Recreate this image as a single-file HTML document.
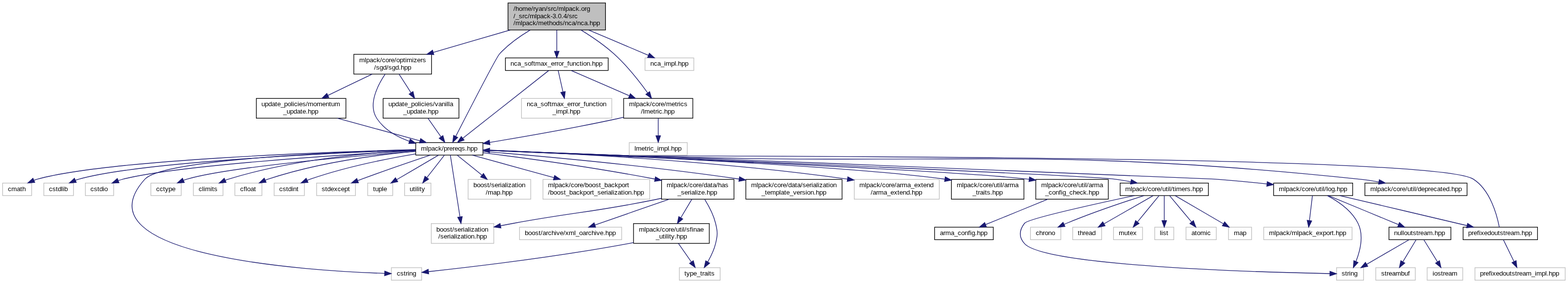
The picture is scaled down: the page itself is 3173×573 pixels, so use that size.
<!DOCTYPE html>
<html><head><meta charset="utf-8"><title>nca.hpp include dependency graph</title>
<style>
html,body{margin:0;padding:0;background:#fff;}
body{width:3173px;height:573px;}
svg{display:block;will-change:transform;}
svg text{font-family:"Liberation Sans",sans-serif;font-size:13.3333px;fill:#000;}
.n{stroke-width:1.3333}
.e{fill:none;stroke:#191970;stroke-width:1.3333}
.a{fill:#191970;stroke:#191970;stroke-width:1.3333}
</style></head><body>
<svg width="3173" height="573" viewBox="0 0 3173 573">
<rect width="3173" height="573" fill="#fff"/>
<rect class="n" x="1028" y="6" width="197.33" height="54.67" fill="#bfbfbf" stroke="#000"/>
<text x="1039 1043 1050 1057 1068 1075 1079 1083 1090 1097 1104 1108 1115 1119 1126 1130 1141 1144 1151 1158 1165 1172 1176 1183 1187" y="22">/home/ryan/src/mlpack.org</text>
<text x="1039 1043 1050 1057 1061 1068 1072 1083 1086 1093 1100 1107 1114 1118 1125 1129 1136 1140 1147 1151 1158 1162" y="37">/_src/mlpack-3.0.4/src</text>
<text x="1039 1043 1054 1057 1064 1071 1078 1085 1089 1100 1107 1111 1118 1125 1132 1139 1143 1150 1157 1164 1168 1175 1182 1189 1193 1200 1207" y="51">/mlpack/methods/nca/nca.hpp</text>
<rect class="n" x="841.33" y="288.67" width="136" height="25.33" fill="#fff" stroke="#000"/>
<text x="852 863 866 873 880 887 894 898 905 909 916 920 927 934 941 945 952 959" y="305">mlpack/prereqs.hpp</text>
<path class="e" d="M1072.73,60.88C1051.55,73.57 1028.17,90.1 1010.67,109.33 1004.44,116.18 948.1,225.58 922.22,276.11"/><polygon class="a" points="926.3,278.38 916.07,288.13 917.99,274.13"/>
<rect class="n" x="1262" y="199.33" width="140" height="40" fill="#fff" stroke="#000"/>
<text x="1273 1284 1287 1294 1301 1308 1315 1319 1326 1333 1337 1344 1348 1359 1366 1370 1374 1377 1384" y="215">mlpack/core/metrics</text>
<text x="1297 1301 1304 1315 1322 1326 1330 1333 1340 1344 1351 1358" y="230">/lmetric.hpp</text>
<path class="e" d="M1175.91,60.92C1197.5,74.16 1222.47,91.1 1242.67,109.33 1268.79,132.92 1293.62,164.5 1310.43,187.77"/><polygon class="a" points="1314.56,185.52 1318.46,199.09 1306.95,190.92"/>
<rect class="n" x="716" y="110" width="157.33" height="40" fill="#fff" stroke="#000"/>
<text x="727 738 741 748 755 762 769 773 780 787 791 798 802 809 816 820 823 834 837 844 851 855" y="126">mlpack/core/optimizers</text>
<text x="757 761 768 775 782 786 793 800 807 811 818 825" y="141">/sgd/sgd.hpp</text>
<path class="e" d="M1032.42,60.78C983.35,75.06 923.93,92.36 876.77,106.09"/><polygon class="a" points="877.92,110.62 863.81,109.87 875.31,101.66"/>
<rect class="n" x="1022.67" y="117.33" width="208" height="25.33" fill="#fff" stroke="#000"/>
<text x="1033 1040 1047 1054 1061 1068 1075 1079 1083 1094 1101 1108 1115 1122 1126 1130 1137 1141 1148 1152 1159 1166 1173 1177 1180 1187 1194 1198 1205 1212" y="133">nca_softmax_error_function.hpp</text>
<path class="e" d="M1126.67,60.78C1126.67,74.24 1126.67,90.38 1126.67,103.69"/><polygon class="a" points="1131.33,103.89 1126.67,117.22 1122,103.89"/>
<rect class="n" x="1305.33" y="117.33" width="98.67" height="25.33" fill="#fff" stroke="#bfbfbf"/>
<text x="1316 1323 1330 1337 1344 1347 1358 1365 1368 1372 1379 1386" y="133">nca_impl.hpp</text>
<path class="e" d="M1191.39,60.78C1229.98,77.14 1277.89,97.45 1311.81,111.83"/><polygon class="a" points="1314.07,107.72 1324.52,117.22 1310.43,116.31"/>
<rect class="n" x="5.33" y="370.67" width="58.67" height="25.33" fill="#fff" stroke="#bfbfbf"/>
<text x="16 23 34 41 45" y="387">cmath</text>
<path class="e" d="M840.99,302.95C668.59,307.58 219.54,323.16 76,362.67 73.71,363.3 71.4,364.06 69.11,364.91"/><polygon class="a" points="70.42,369.43 56.34,370.52 66.67,360.88"/>
<rect class="n" x="88.67" y="370.67" width="60" height="25.33" fill="#fff" stroke="#bfbfbf"/>
<text x="99 106 113 117 124 127 130" y="387">cstdlib</text>
<path class="e" d="M840.92,303.61C681.09,309.46 287.12,327.12 160,362.67 157.72,363.31 155.41,364.07 153.11,364.93"/><polygon class="a" points="154.43,369.45 140.35,370.55 150.67,360.91"/>
<rect class="n" x="172.67" y="370.67" width="57.33" height="25.33" fill="#fff" stroke="#bfbfbf"/>
<text x="183 190 197 201 208 211" y="387">cstdio</text>
<path class="e" d="M841.15,304.96C695.86,313.12 360.01,334.45 249.33,362.67 246.03,363.51 242.65,364.55 239.31,365.72"/><polygon class="a" points="240.84,370.13 226.72,370.65 237.43,361.44"/>
<rect class="n" x="792" y="542" width="61.33" height="25.33" fill="#fff" stroke="#bfbfbf"/>
<text x="803 810 817 821 825 828 835" y="558">cstring</text>
<path class="e" d="M841.27,303.07C688.65,307.65 329.58,322.63 293.33,362.67 151.43,519.4 627.09,548.34 778.13,553.55"/><polygon class="a" points="778.52,548.9 791.7,553.99 778.23,558.23"/>
<rect class="n" x="305.33" y="370.67" width="61.33" height="25.33" fill="#fff" stroke="#bfbfbf"/>
<text x="316 323 330 334 341 348" y="387">cctype</text>
<path class="e" d="M841,306.37C717.92,315.91 463.82,337.9 378.67,362.67 376.38,363.33 374.07,364.11 371.77,364.96"/><polygon class="a" points="373,369.51 358.91,370.5 369.31,360.94"/>
<rect class="n" x="391.33" y="370.67" width="60" height="25.33" fill="#fff" stroke="#bfbfbf"/>
<text x="402 409 412 415 426 429 433" y="387">climits</text>
<path class="e" d="M841.26,303.79C752.37,308.54 592.78,322.41 462.67,362.67 460.45,363.35 458.21,364.14 455.98,365.01"/><polygon class="a" points="457.6,369.4 443.52,370.58 453.79,360.88"/>
<rect class="n" x="475.33" y="370.67" width="54.67" height="25.33" fill="#fff" stroke="#bfbfbf"/>
<text x="486 493 497 500 507 514" y="387">cfloat</text>
<path class="e" d="M841.24,306.36C766.45,313.32 643.56,329.09 542.67,362.67 540.77,363.3 538.85,364.01 536.93,364.78"/><polygon class="a" points="538.62,369.14 524.56,370.47 534.72,360.66"/>
<rect class="n" x="554.67" y="370.67" width="61.33" height="25.33" fill="#fff" stroke="#bfbfbf"/>
<text x="565 572 579 583 590 593 600" y="387">cstdint</text>
<path class="e" d="M841.03,311.57C783.28,321.32 698.87,338.17 628,362.67 625.86,363.41 623.69,364.23 621.52,365.1"/><polygon class="a" points="623.36,369.38 609.28,370.51 619.59,360.85"/>
<rect class="n" x="640.67" y="370.67" width="78.67" height="25.33" fill="#fff" stroke="#bfbfbf"/>
<text x="651 658 662 669 676 683 690 697 704" y="387">stdexcept</text>
<path class="e" d="M870.76,314.11C834.71,326.19 779.49,345.03 732,362.67 729.47,363.61 726.88,364.58 724.27,365.58"/><polygon class="a" points="725.38,370.16 711.26,370.64 721.99,361.46"/>
<rect class="n" x="744" y="370.67" width="50.67" height="25.33" fill="#fff" stroke="#bfbfbf"/>
<text x="755 759 766 773 776" y="387">tuple</text>
<path class="e" d="M887.46,314.15C864.75,327.44 828.95,348.41 802.71,363.78"/><polygon class="a" points="804.92,367.9 791.05,370.61 800.2,359.85"/>
<rect class="n" x="818.67" y="370.67" width="53.33" height="25.33" fill="#fff" stroke="#bfbfbf"/>
<text x="829 836 840 843 846 849 853" y="387">utility</text>
<path class="e" d="M899.33,314.15C889.9,326.23 875.53,344.65 863.98,359.44"/><polygon class="a" points="867.36,362.7 855.47,370.34 860,356.96"/>
<rect class="n" x="872.67" y="452.67" width="126.67" height="40" fill="#fff" stroke="#bfbfbf"/>
<text x="883 890 897 904 911 915 919 926 933 937 940 947 950 953 960 967 971 974 981" y="469">boost/serialization</text>
<text x="887 891 898 905 909 912 919 922 925 932 939 943 946 953 960 964 971 978" y="483">/serialization.hpp</text>
<path class="e" d="M911.34,314.21C915.42,340.43 924.81,400.77 930.75,438.96"/><polygon class="a" points="935.41,438.51 932.85,452.4 926.18,439.94"/>
<rect class="n" x="947.33" y="363.33" width="126.67" height="40" fill="#fff" stroke="#bfbfbf"/>
<text x="958 965 972 979 986 990 994 1001 1008 1012 1015 1022 1025 1028 1035 1042 1046 1049 1056" y="379">boost/serialization</text>
<text x="983 987 998 1005 1012 1016 1023 1030" y="394">/map.hpp</text>
<path class="e" d="M925.17,314.15C938.5,324.94 958.07,340.77 975.13,354.57"/><polygon class="a" points="978.45,351.26 985.88,363.27 972.58,358.51"/>
<rect class="n" x="1098.67" y="363.33" width="216" height="40" fill="#fff" stroke="#bfbfbf"/>
<text x="1109 1120 1123 1130 1137 1144 1151 1155 1162 1169 1173 1180 1184 1191 1198 1205 1212 1216 1223 1230 1237 1244 1251 1258 1265 1269" y="379">mlpack/core/boost_backport</text>
<text x="1109 1113 1120 1127 1134 1141 1145 1152 1159 1166 1173 1180 1187 1194 1198 1202 1209 1216 1223 1227 1230 1237 1240 1243 1250 1257 1261 1264 1271 1278 1282 1289 1296" y="394">/boost_backport_serialization.hpp</text>
<path class="e" d="M955.79,314.15C999.85,326.3 1067.12,344.85 1120.92,359.69"/><polygon class="a" points="1122.32,355.23 1133.93,363.27 1119.84,364.23"/>
<rect class="n" x="1338.67" y="363.33" width="146.67" height="40" fill="#fff" stroke="#000"/>
<text x="1349 1360 1363 1370 1377 1384 1391 1395 1402 1409 1413 1420 1424 1431 1438 1442 1449 1453 1460 1467" y="379">mlpack/core/data/has</text>
<text x="1371 1378 1385 1392 1396 1399 1406 1409 1412 1419 1426 1430 1437 1444" y="394">_serialize.hpp</text>
<path class="e" d="M977.61,309.41C1057.77,319.34 1194.96,337.67 1325.16,362.51"/><polygon class="a" points="1326.34,357.98 1338.55,365.09 1324.57,367.15"/>
<rect class="n" x="1509.33" y="363.33" width="194.67" height="40" fill="#fff" stroke="#000"/>
<text x="1520 1531 1534 1541 1548 1555 1562 1566 1573 1580 1584 1591 1595 1602 1609 1613 1620 1624 1631 1638 1642 1645 1652 1655 1658 1665 1672 1676 1679 1686" y="379">mlpack/core/data/serialization</text>
<text x="1541 1548 1552 1559 1570 1577 1580 1587 1591 1598 1605 1612 1619 1623 1630 1633 1640 1647 1651 1658 1665" y="394">_template_version.hpp</text>
<path class="e" d="M977.47,306.59C1084.79,315.29 1300.02,334.35 1495.53,362.5"/><polygon class="a" points="1496.45,357.92 1508.98,364.45 1495.11,367.15"/>
<rect class="n" x="1728.67" y="363.33" width="172" height="40" fill="#fff" stroke="#bfbfbf"/>
<text x="1739 1750 1753 1760 1767 1774 1781 1785 1792 1799 1803 1810 1814 1821 1825 1836 1843 1850 1857 1864 1868 1875 1882" y="379">mlpack/core/arma_extend</text>
<text x="1762 1766 1773 1777 1788 1795 1802 1809 1816 1820 1827 1834 1841 1845 1852 1859" y="394">/arma_extend.hpp</text>
<path class="e" d="M977.65,303.52C1114.89,308.56 1433.98,323.55 1714.81,362.66"/><polygon class="a" points="1715.6,358.06 1728.15,364.54 1714.3,367.3"/>
<rect class="n" x="1925.33" y="363.33" width="146.67" height="40" fill="#fff" stroke="#000"/>
<text x="1936 1947 1950 1957 1964 1971 1978 1982 1989 1996 2000 2007 2011 2018 2022 2025 2028 2032 2039 2043 2054" y="379">mlpack/core/util/arma</text>
<text x="1968 1975 1979 1983 1990 1993 1997 2004 2008 2015 2022" y="394">_traits.hpp</text>
<path class="e" d="M977.37,303.92C1168.18,311.42 1707.06,334.33 1911.72,362.72"/><polygon class="a" points="1912.76,358.16 1925.29,364.69 1911.42,367.4"/>
<rect class="n" x="2096" y="363.33" width="146.67" height="40" fill="#fff" stroke="#000"/>
<text x="2107 2118 2121 2128 2135 2142 2149 2153 2160 2167 2171 2178 2182 2189 2193 2196 2199 2203 2210 2214 2225" y="379">mlpack/core/util/arma</text>
<text x="2115 2122 2129 2136 2143 2147 2150 2157 2164 2171 2178 2185 2192 2199 2203 2210 2217" y="394">_config_check.hpp</text>
<path class="e" d="M977.6,304.16C1204.33,313.64 1926.13,344.64 2082.28,362.87"/><polygon class="a" points="2083.34,358.3 2095.96,364.65 2082.13,367.56"/>
<rect class="n" x="2266.67" y="370.67" width="178.67" height="25.33" fill="#fff" stroke="#000"/>
<text x="2277 2288 2291 2298 2305 2312 2319 2323 2330 2337 2341 2348 2352 2359 2363 2366 2369 2373 2377 2380 2391 2398 2402 2409 2413 2420 2427" y="387">mlpack/core/util/timers.hpp</text>
<path class="e" d="M977.43,304.14C1242.08,315.1 2190.82,354.75 2254.67,362.67 2265.56,364.02 2277.03,365.9 2288.18,367.99"/><polygon class="a" points="2289.38,363.47 2301.56,370.61 2287.58,372.63"/>
<rect class="n" x="2577.33" y="370.67" width="160" height="25.33" fill="#fff" stroke="#000"/>
<text x="2588 2599 2602 2609 2616 2623 2630 2634 2641 2648 2652 2659 2663 2670 2674 2677 2680 2684 2687 2694 2701 2705 2712 2719" y="387">mlpack/core/util/log.hpp</text>
<path class="e" d="M977.6,303.92C1267.19,314.89 2382.68,357.34 2457.33,362.67 2492.07,365.15 2530.1,368.83 2563.59,372.41"/><polygon class="a" points="2564.39,367.8 2577.15,373.87 2563.39,377.08"/>
<rect class="n" x="2762" y="370.67" width="206.67" height="25.33" fill="#fff" stroke="#000"/>
<text x="2773 2784 2787 2794 2801 2808 2815 2819 2826 2833 2837 2844 2848 2855 2859 2862 2865 2869 2876 2883 2890 2894 2901 2908 2915 2919 2926 2933 2937 2944 2951" y="387">mlpack/core/util/deprecated.hpp</text>
<path class="e" d="M977.47,304.03C1048.37,306.8 1162.63,311.21 1261.33,314.67 1922.6,337.86 2091.25,293.79 2749.33,362.67 2762.61,364.06 2776.65,366.08 2790.21,368.32"/><polygon class="a" points="2791.21,363.76 2803.56,370.63 2789.63,372.96"/>
<path class="e" d="M1338.53,401.48C1334.52,402.36 1330.55,403.21 1326.67,404 1200.11,429.89 1167.07,428.74 1040,452 1031.24,453.6 1022.08,455.34 1012.98,457.1"/><polygon class="a" points="1013.72,461.71 999.74,459.68 1011.93,452.55"/>
<rect class="n" x="1282" y="452.67" width="153.33" height="40" fill="#fff" stroke="#000"/>
<text x="1293 1304 1307 1314 1321 1328 1335 1339 1346 1353 1357 1364 1368 1375 1379 1382 1385 1389 1396 1400 1403 1410 1417" y="469">mlpack/core/util/sfinae</text>
<text x="1327 1334 1341 1345 1348 1351 1354 1358 1365 1369 1376 1383" y="483">_utility.hpp</text>
<path class="e" d="M1399.9,403.6C1393.35,414.57 1385.12,428.36 1377.73,440.74"/><polygon class="a" points="1381.56,443.42 1370.72,452.48 1373.55,438.64"/>
<rect class="n" x="1374.67" y="542" width="82.67" height="25.33" fill="#fff" stroke="#bfbfbf"/>
<text x="1385 1389 1396 1403 1410 1417 1421 1425 1432 1435 1439" y="558">type_traits</text>
<path class="e" d="M1426.17,403.91C1434.31,417.03 1443.75,434.75 1448,452 1452.39,469.84 1452.37,475.49 1448,493.33 1444.83,506.24 1438.42,519.46 1432.17,530.3"/><polygon class="a" points="1436.06,532.87 1425.09,541.77 1428.12,527.97"/>
<rect class="n" x="1051.33" y="460" width="206.67" height="25.33" fill="#fff" stroke="#bfbfbf"/>
<text x="1062 1069 1076 1083 1090 1094 1098 1105 1109 1116 1123 1126 1133 1140 1144 1151 1162 1165 1172 1179 1186 1190 1197 1204 1207 1214 1221 1225 1232 1239" y="476">boost/archive/xml_oarchive.hpp</text>
<path class="e" d="M1354.25,403.38C1308.99,419.09 1246.71,440.71 1203.82,455.6"/><polygon class="a" points="1205.3,460.03 1191.17,459.99 1202.24,451.21"/>
<path class="e" d="M1281.97,491.13C1278.15,491.91 1274.37,492.65 1270.67,493.33 1123.94,520.54 948.11,541.16 867.29,549.97"/><polygon class="a" points="867.54,554.64 853.79,551.43 866.54,545.36"/>
<path class="e" d="M1372.84,492.94C1380.8,504.32 1390.78,518.59 1399.14,530.55"/><polygon class="a" points="1403,527.94 1406.82,541.54 1395.36,533.28"/>
<rect class="n" x="1891.33" y="460" width="118.67" height="25.33" fill="#fff" stroke="#000"/>
<text x="1902 1909 1913 1924 1931 1938 1945 1952 1959 1963 1966 1973 1977 1984 1991" y="476">arma_config.hpp</text>
<path class="e" d="M2120.26,403.38C2082.58,418.78 2031.01,439.84 1994.66,454.69"/><polygon class="a" points="1996.12,459.14 1982.01,459.86 1992.59,450.5"/>
<rect class="n" x="2704.67" y="542" width="54.67" height="25.33" fill="#fff" stroke="#bfbfbf"/>
<text x="2715 2722 2726 2730 2733 2740" y="558">string</text>
<path class="e" d="M2295.54,396.04C2214.6,413.34 2080.29,443.15 2073.33,452 2061.98,466.44 2060.96,479.75 2073.33,493.33 2115.03,539.09 2553.75,551.28 2691.12,553.99"/><polygon class="a" points="2691.3,549.32 2704.54,554.24 2691.12,558.65"/>
<rect class="n" x="2085.33" y="460" width="61.33" height="25.33" fill="#fff" stroke="#bfbfbf"/>
<text x="2096 2103 2110 2114 2121 2128" y="476">chrono</text>
<path class="e" d="M2315.04,396.05C2274.77,408.91 2211.78,429.98 2158.67,452 2156.86,452.75 2155.02,453.54 2153.17,454.35"/><polygon class="a" points="2155.11,458.59 2141.05,459.94 2151.21,450.12"/>
<rect class="n" x="2170.67" y="460" width="58.67" height="25.33" fill="#fff" stroke="#bfbfbf"/>
<text x="2181 2185 2192 2196 2203 2210" y="476">thread</text>
<path class="e" d="M2333.65,396.13C2307.58,411.06 2264.22,435.89 2233.98,453.21"/><polygon class="a" points="2236.2,457.31 2222.31,459.89 2231.56,449.22"/>
<rect class="n" x="2253.33" y="460" width="58.67" height="25.33" fill="#fff" stroke="#bfbfbf"/>
<text x="2264 2275 2282 2286 2293" y="476">mutex</text>
<path class="e" d="M2345.49,396.13C2334.17,409.93 2315.89,432.19 2301.96,449.16"/><polygon class="a" points="2305.22,452.55 2293.15,459.89 2298.01,446.62"/>
<rect class="n" x="2336.67" y="460" width="38.67" height="25.33" fill="#fff" stroke="#bfbfbf"/>
<text x="2347 2350 2353 2360" y="476">list</text>
<path class="e" d="M2356,396.13C2356,409.13 2356,429.65 2356,446.17"/><polygon class="a" points="2360.67,446.56 2356,459.89 2351.33,446.56"/>
<rect class="n" x="2400" y="460" width="61.33" height="25.33" fill="#fff" stroke="#bfbfbf"/>
<text x="2411 2418 2422 2429 2440 2443" y="476">atomic</text>
<path class="e" d="M2366.7,396.13C2378.34,410.06 2397.2,432.62 2411.43,449.65"/><polygon class="a" points="2415.02,446.67 2419.99,459.89 2407.86,452.65"/>
<rect class="n" x="2486" y="460" width="46.67" height="25.33" fill="#fff" stroke="#bfbfbf"/>
<text x="2497 2508 2515" y="476">map</text>
<path class="e" d="M2377.97,396.13C2403.47,410.99 2445.83,435.67 2475.54,452.98"/><polygon class="a" points="2478.23,449.15 2487.41,459.89 2473.54,457.21"/>
<path class="e" d="M2686.06,396.17C2707.48,407.48 2735.17,426.18 2748,452 2760.12,476.38 2752.39,507.7 2744,529.3"/><polygon class="a" points="2748.13,531.51 2738.59,541.92 2739.55,527.83"/>
<rect class="n" x="2557.33" y="460" width="178.67" height="25.33" fill="#fff" stroke="#bfbfbf"/>
<text x="2568 2579 2582 2589 2596 2603 2610 2614 2625 2628 2635 2642 2649 2656 2663 2670 2677 2684 2691 2695 2699 2703 2710 2717" y="476">mlpack/mlpack_export.hpp</text>
<path class="e" d="M2655.81,396.13C2654.25,409.13 2651.8,429.65 2649.83,446.17"/><polygon class="a" points="2654.41,447.21 2648.19,459.89 2645.14,446.1"/>
<rect class="n" x="2810.67" y="460" width="125.33" height="25.33" fill="#fff" stroke="#000"/>
<text x="2821 2828 2835 2838 2841 2848 2855 2859 2866 2870 2874 2881 2888 2899 2903 2910 2917" y="476">nulloutstream.hpp</text>
<path class="e" d="M2688.28,396.13C2725.33,411.46 2787.63,437.22 2829.59,454.58"/><polygon class="a" points="2831.91,450.48 2842.44,459.89 2828.34,459.11"/>
<rect class="n" x="2960.67" y="460" width="150.67" height="25.33" fill="#fff" stroke="#000"/>
<text x="2971 2978 2982 2989 2993 2996 3003 3010 3017 3024 3031 3035 3042 3046 3050 3057 3064 3075 3079 3086 3093" y="476">prefixedoutstream.hpp</text>
<path class="e" d="M2711.18,396.04C2778.85,412 2894.99,439.4 2968.51,456.74"/><polygon class="a" points="2969.82,452.26 2981.72,459.86 2967.67,461.34"/>
<path class="e" d="M2851.25,485.48C2828.33,498.78 2792.19,519.75 2765.7,535.12"/><polygon class="a" points="2767.8,539.29 2753.93,541.94 2763.12,531.22"/>
<rect class="n" x="2784" y="542" width="80" height="25.33" fill="#fff" stroke="#bfbfbf"/>
<text x="2795 2802 2806 2810 2817 2824 2835 2842 2849" y="558">streambuf</text>
<path class="e" d="M2865.62,485.48C2858.5,497.32 2847.71,515.25 2838.91,529.89"/><polygon class="a" points="2842.69,532.65 2831.82,541.67 2834.69,527.84"/>
<rect class="n" x="2888" y="542" width="72" height="25.33" fill="#fff" stroke="#bfbfbf"/>
<text x="2899 2902 2909 2916 2920 2924 2931 2938" y="558">iostream</text>
<path class="e" d="M2881.25,485.48C2888.57,497.32 2899.65,515.25 2908.69,529.89"/><polygon class="a" points="2912.93,527.88 2915.97,541.67 2904.99,532.78"/>
<path class="e" d="M3034,459.99C3029.47,436.1 3016.01,384.83 2981.33,362.67 2900.79,311.18 1356.87,317.81 1261.33,314.67 1168.6,311.62 1062.14,307.5 990.81,304.65"/><polygon class="a" points="990.6,309.31 977.46,304.12 990.97,299.99"/>
<rect class="n" x="2984.67" y="542" width="182.67" height="25.33" fill="#fff" stroke="#bfbfbf"/>
<text x="2995 3002 3006 3013 3017 3020 3027 3034 3041 3048 3055 3059 3066 3070 3074 3081 3088 3099 3106 3109 3120 3127 3130 3134 3141 3148" y="558">prefixedoutstream_impl.hpp</text>
<path class="e" d="M3042.25,485.48C3047.97,497.2 3056.6,514.89 3063.7,529.45"/><polygon class="a" points="3068.01,527.64 3069.66,541.67 3059.62,531.74"/>
<path class="e" d="M1261.98,237.46C1258.16,238.35 1254.37,239.2 1250.67,240 1162.4,259.12 1060.38,276.89 991.03,288.33"/><polygon class="a" points="991.53,292.98 977.61,290.53 990.02,283.77"/>
<rect class="n" x="1273.33" y="288.67" width="117.33" height="25.33" fill="#fff" stroke="#bfbfbf"/>
<text x="1284 1287 1298 1305 1309 1313 1316 1323 1330 1333 1344 1351 1354 1358 1365 1372" y="305">lmetric_impl.hpp</text>
<path class="e" d="M1332,239.6C1332,250.16 1332,263.19 1332,274.57"/><polygon class="a" points="1336.67,274.87 1332,288.2 1327.33,274.87"/>
<path class="e" d="M779.36,150.2C763.72,173.51 744.15,212.19 762.67,240 777.78,262.7 803.07,277.01 828.44,286.03"/><polygon class="a" points="830,281.63 841.26,290.17 827.13,290.52"/>
<rect class="n" x="775.33" y="199.33" width="153.33" height="40" fill="#fff" stroke="#000"/>
<text x="786 793 800 807 814 818 825 832 839 846 849 852 859 862 869 876 880 887 894 901 904 907 910" y="215">update_policies/vanilla</text>
<text x="816 823 830 837 844 851 855 862 866 873 880" y="230">_update.hpp</text>
<path class="e" d="M807.68,150.27C814.79,161.35 823.75,175.32 831.75,187.79"/><polygon class="a" points="835.77,185.4 839.04,199.14 827.91,190.44"/>
<rect class="n" x="518.67" y="199.33" width="181.33" height="40" fill="#fff" stroke="#000"/>
<text x="529 536 543 550 557 561 568 575 582 589 592 595 602 605 612 619 623 634 641 652 659 666 670 677" y="215">update_policies/momentum</text>
<text x="573 580 587 594 601 608 612 619 623 630 637" y="230">_update.hpp</text>
<path class="e" d="M753.07,150.05C726.67,162.77 692.23,179.38 663.67,193.14"/><polygon class="a" points="665.47,197.46 651.43,199.04 661.41,189.05"/>
<path class="e" d="M866.17,239.6C874.13,250.99 884.11,265.26 892.47,277.22"/><polygon class="a" points="896.34,274.6 900.15,288.2 888.69,279.95"/>
<path class="e" d="M682.72,239.39C734.09,253.43 801.86,271.96 849.86,285.08"/><polygon class="a" points="851.21,280.61 862.84,288.63 848.75,289.61"/>
<path class="e" d="M1110.33,142.88C1073.2,172.15 982.15,243.93 936.44,279.96"/><polygon class="a" points="939.22,283.72 925.86,288.31 933.44,276.39"/>
<path class="e" d="M1156.09,142.8C1186.57,156.06 1235.04,177.15 1273.39,193.83"/><polygon class="a" points="1275.6,189.71 1285.96,199.3 1271.88,198.26"/>
<rect class="n" x="1055.33" y="199.33" width="182.67" height="40" fill="#fff" stroke="#bfbfbf"/>
<text x="1066 1073 1080 1087 1094 1101 1108 1112 1116 1127 1134 1141 1148 1155 1159 1163 1170 1174 1181 1185 1192 1199 1206 1210 1213 1220" y="215">nca_softmax_error_function</text>
<text x="1118 1125 1128 1139 1146 1149 1153 1160 1167" y="230">_impl.hpp</text>
<path class="e" d="M1129.53,142.8C1132.06,154.1 1135.86,171.09 1139.25,186.18"/><polygon class="a" points="1143.82,185.27 1142.18,199.3 1134.72,187.31"/>
</svg>
</body></html>
